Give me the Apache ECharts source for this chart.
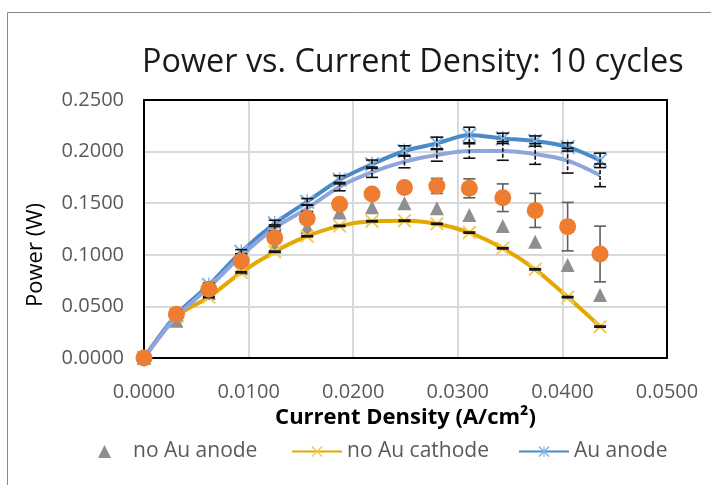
<!DOCTYPE html>
<html>
<head>
<meta charset="utf-8">
<script src="https://cdn.jsdelivr.net/npm/echarts@6/dist/echarts.min.js"></script>
<style>
  html, body { margin: 0; padding: 0; background: #fff; }
  #chart { width: 711px; height: 485px; }
</style>
</head>
<body>
<div id="chart"></div>
<script>
// Current density (A/cm²) for every measurement step
const currentDensity = [0, 0.0031, 0.0062, 0.0093, 0.0125, 0.0156, 0.0187, 0.0218, 0.0249, 0.0280, 0.0311, 0.0343, 0.0374, 0.0405, 0.0436];

// Power (W) per configuration
const noAuAnode   = [0, 0.036, 0.063, 0.087, 0.108, 0.127, 0.141, 0.146, 0.150, 0.145, 0.1386, 0.128, 0.1127, 0.090, 0.061];
const noAuCathode = [0, 0.040, 0.059, 0.083, 0.103, 0.118, 0.128, 0.1325, 0.133, 0.130, 0.1215, 0.1063, 0.0859, 0.0590, 0.0304];
const auAnode     = [0, 0.042, 0.0707, 0.103, 0.1305, 0.1515, 0.1727, 0.1878, 0.2006, 0.208, 0.2161, 0.2128, 0.2102, 0.2045, 0.1915];
const auAnodeB    = [0, 0.040, 0.0685, 0.099, 0.126, 0.145, 0.166, 0.1800, 0.1903, 0.1967, 0.2006, 0.2006, 0.1977, 0.1912, 0.1770];
const orangeSet   = [0, 0.0423, 0.0667, 0.094, 0.1166, 0.1353, 0.149, 0.1589, 0.1652, 0.1667, 0.1644, 0.1553, 0.1430, 0.1273, 0.1008];

// Error half-widths (W)
const errCathode  = [0, 0.0006, 0.0006, 0.0006, 0.0006, 0.0006, 0.0006, 0.0006, 0.0006, 0.0006, 0.0006, 0.0006, 0.0006, 0.0006, 0.0006];
const errAuAnode  = [0, 0.002, 0.002, 0.002, 0.003, 0.003, 0.004, 0.004, 0.005, 0.006, 0.0075, 0.005, 0.005, 0.004, 0.007];
const errAuAnodeB = [0, 0.002, 0.002, 0.002, 0.003, 0.003, 0.004, 0.005, 0.006, 0.006, 0.007, 0.009, 0.010, 0.012, 0.011];
const errOrange   = [0, 0.002, 0.002, 0.002, 0.002, 0.002, 0.003, 0.003, 0.004, 0.0073, 0.0092, 0.0134, 0.0165, 0.0235, 0.027];

const xTicks = ['0.0000', '0.0100', '0.0200', '0.0300', '0.0400', '0.0500'];
const yTicks = ['0.0000', '0.0500', '0.1000', '0.1500', '0.2000', '0.2500'];

const FONT = '"Open Sans", "Noto Sans", sans-serif';

const pairs = ys => currentDensity.map((x, i) => [x, ys[i]]);
const bars = (ys, es) => currentDensity.map((x, i) => [x, ys[i] - es[i], ys[i] + es[i]]);

// Excel-like marker shapes
const crossPath = 'path://M0,1 L1,0 L10,9 L9,10 Z M9,0 L10,1 L1,10 L0,9 Z';
const starPath  = 'path://M0,1 L1,0 L10,9 L9,10 Z M9,0 L10,1 L1,10 L0,9 Z M4.5,0 L5.5,0 L5.5,10 L4.5,10 Z';

function errorBarRenderer(color, dash) {
  return function (params, api) {
    const x = api.value(0);
    const lo = api.value(1), hi = api.value(2);
    if (hi - lo <= 0) return null;
    const top = api.coord([x, hi]);
    const bot = api.coord([x, lo]);
    const hw = 6;
    const style = { stroke: color, lineWidth: 1.6, lineDash: dash || null };
    const capStyle = { stroke: color, lineWidth: 1.6 };
    return {
      type: 'group',
      children: [
        { type: 'line', shape: { x1: top[0], y1: top[1], x2: bot[0], y2: bot[1] }, style: style },
        { type: 'line', shape: { x1: top[0] - hw, y1: top[1], x2: top[0] + hw, y2: top[1] }, style: capStyle },
        { type: 'line', shape: { x1: bot[0] - hw, y1: bot[1], x2: bot[0] + hw, y2: bot[1] }, style: capStyle }
      ]
    };
  };
}

const chart = echarts.init(document.getElementById('chart'), null, { renderer: 'canvas' });

const legendText = { fontFamily: FONT, fontSize: 21, color: '#595959' };

chart.setOption({
  animation: false,
  backgroundColor: '#fff',
  graphic: [{
    type: 'rect',
    shape: { x: 7.5, y: 12.5, width: 800, height: 600 },
    style: { fill: 'none', stroke: '#8a8a8a', lineWidth: 1 },
    silent: true
  }],
  title: {
    text: 'Power vs. Current Density: 10 cycles',
    left: 142, top: 47, padding: 0,
    textStyle: { fontFamily: FONT, fontSize: 32.4, fontWeight: 'normal', color: '#1a1a1a' }
  },
  legend: [
    { data: ['no Au anode'], left: 98, top: 441, padding: 0, itemWidth: 13, itemHeight: 13,
      textStyle: Object.assign({ padding: [0, 0, 0, 17] }, legendText) },
    { data: ['no Au cathode'], left: 291, top: 441, padding: 0, itemWidth: 50, itemHeight: 14, textStyle: legendText },
    { data: ['Au anode'], left: 518, top: 441, padding: 0, itemWidth: 50, itemHeight: 14, textStyle: legendText }
  ],
  grid: {
    left: 144, right: 44, top: 100, bottom: 127, z: 1,
    show: true, borderColor: '#000', borderWidth: 2, backgroundColor: 'transparent'
  },
  xAxis: {
    type: 'value', min: 0, max: 0.05, interval: 0.01,
    name: 'Current Density (A/cm²)', nameLocation: 'middle', nameGap: 39,
    nameTextStyle: { fontFamily: FONT, fontSize: 22, fontWeight: 'bold', color: '#000' },
    axisLine: { show: false }, axisTick: { show: false },
    splitLine: { show: true, lineStyle: { color: '#d9d9d9', width: 2 } },
    axisLabel: {
      margin: 24, fontFamily: FONT, fontSize: 20, color: '#595959',
      formatter: (v) => xTicks[Math.round(v / 0.01)]
    }
  },
  yAxis: {
    type: 'value', min: 0, max: 0.25, interval: 0.05,
    name: 'Power (W)', nameLocation: 'middle', nameGap: 97,
    nameTextStyle: { fontFamily: FONT, fontSize: 22, color: '#000', padding: [0, 52, 0, 0] },
    axisLine: { show: false }, axisTick: { show: false },
    splitLine: { show: true, lineStyle: { color: '#d9d9d9', width: 2 } },
    axisLabel: {
      margin: 20, fontFamily: FONT, fontSize: 20, color: '#595959',
      formatter: (v) => yTicks[Math.round(v / 0.05)]
    }
  },
  series: [
    {
      name: 'no Au anode', type: 'scatter', data: pairs(noAuAnode),
      symbol: 'triangle', symbolSize: 14, itemStyle: { color: '#8f8f8f', opacity: 1 }, z: 2
    },
    {
      name: 'no Au cathode', type: 'line', data: pairs(noAuCathode), smooth: 0.3,
      symbol: crossPath, symbolSize: 14, showAllSymbol: true,
      lineStyle: { color: '#e2a900', width: 4 }, itemStyle: { color: '#f6cb55' }, z: 3
    },
    {
      name: 'Au anode', type: 'line', data: pairs(auAnode), smooth: 0.3,
      symbol: starPath, symbolSize: 15, showAllSymbol: true,
      lineStyle: { color: '#4a8ac8', width: 4 }, itemStyle: { color: '#86b6e4' }, z: 4
    },
    {
      name: 'Au anode (cycle set 2)', type: 'line', data: pairs(auAnodeB), smooth: 0.3,
      symbol: 'none', lineStyle: { color: '#8fa6dc', width: 4 }, z: 5
    },
    {
      name: 'cathode err', type: 'custom', data: bars(noAuCathode, errCathode),
      encode: { x: 0, y: [1, 2] }, renderItem: errorBarRenderer('#111'), z: 6, silent: true
    },
    {
      name: 'Au anode err', type: 'custom', data: bars(auAnode, errAuAnode),
      encode: { x: 0, y: [1, 2] }, renderItem: errorBarRenderer('#111', [4, 2]), z: 6, silent: true
    },
    {
      name: 'Au anode 2 err', type: 'custom', data: bars(auAnodeB, errAuAnodeB),
      encode: { x: 0, y: [1, 2] }, renderItem: errorBarRenderer('#111', [4, 2]), z: 6, silent: true
    },
    {
      name: 'orange err', type: 'custom', data: bars(orangeSet, errOrange),
      encode: { x: 0, y: [1, 2] }, renderItem: errorBarRenderer('#5f5f5f'), z: 7, silent: true
    },
    {
      name: 'Au cathode', type: 'scatter', data: pairs(orangeSet),
      symbol: 'circle', symbolSize: 17, itemStyle: { color: '#ed7d31', opacity: 1 }, z: 8
    }
  ]
});
</script>
</body>
</html>
